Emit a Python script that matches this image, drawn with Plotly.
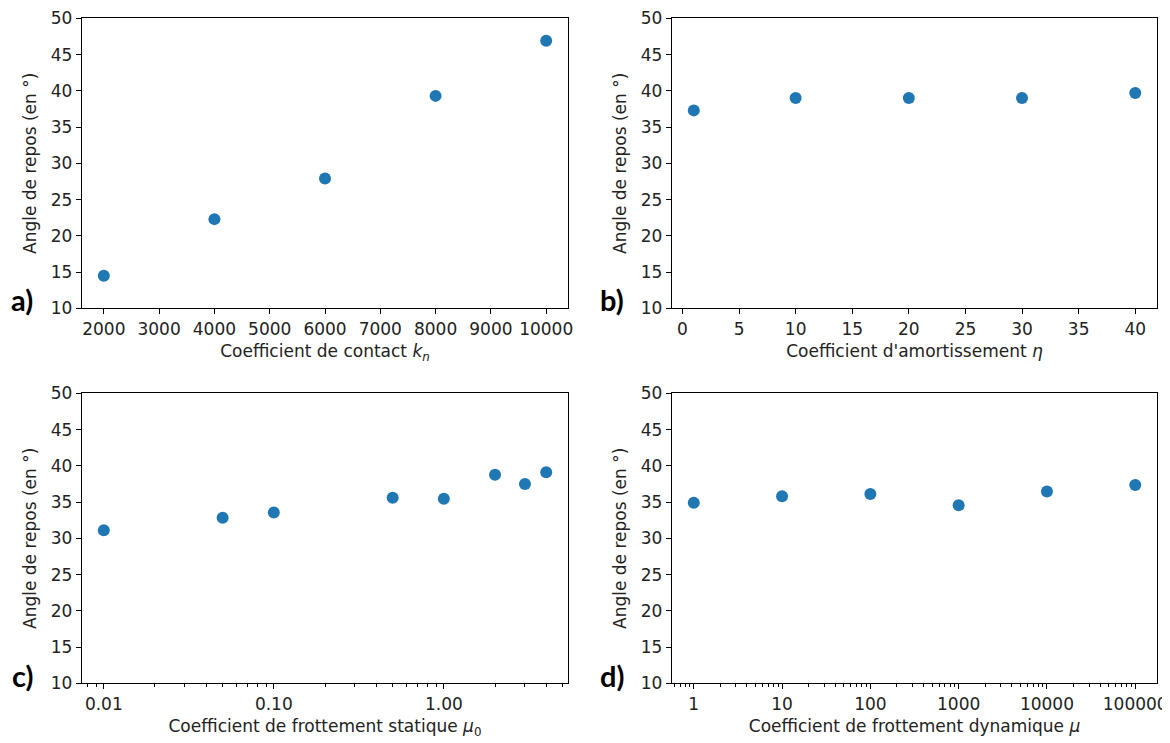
import plotly.graph_objects as go

# ---- data ----
kn = [2000, 4000, 6000, 8000, 10000]
angle_kn = [14.5, 22.3, 27.9, 39.3, 46.9]

eta = [1, 10, 20, 30, 40]
angle_eta = [37.3, 39.0, 39.0, 39.0, 39.7]

mu0 = [0.01, 0.05, 0.1, 0.5, 1, 2, 3, 4]
angle_mu0 = [31.1, 32.85, 33.55, 35.6, 35.45, 38.75, 37.5, 39.1]

mu = [1, 10, 100, 1000, 10000, 100000]
angle_mu = [34.9, 35.8, 36.1, 34.55, 36.45, 37.35]

mu0_ticks = [0.01, 0.1, 1]
mu0_ticktext = ["0.01", "0.10", "1.00"]
mu_ticks = [1, 10, 100, 1000, 10000, 100000]
mu_ticktext = ["1", "10", "100", "1000", "10000", "100000"]

ylabel = "Angle de repos (en °)"
xlabels = [
    "Coefficient de contact <i>k<sub>n</sub></i>",
    "Coefficient d'amortissement <i>η</i>",
    "Coefficient de frottement statique <i>μ</i><sub>0</sub>",
    "Coefficient de frottement dynamique <i>μ</i>",
]
panel_labels = ["a)", "b)", "c)", "d)"]

W, H = 1170, 743
OFF = 8  # default body margin of the html page
FW, FH = W - OFF, H - OFF
BLUE = "#1f77b4"
FONT = "DejaVu Sans"
TXT = "#222222"
TICK_SIZE = 17
TITLE_SIZE = 17

def px_x(p):
    return (p - OFF) / FW

def px_y(p):
    return 1 - (p - OFF) / FH

xdom_left = [px_x(81.7), px_x(568.3)]
xdom_right = [px_x(671.7), px_x(1157.3)]
ydom_top = [px_y(308.3), px_y(18.3)]
ydom_bot = [px_y(683.3), px_y(393.3)]

fig = go.Figure()
series = [(kn, angle_kn), (eta, angle_eta), (mu0, angle_mu0), (mu, angle_mu)]
for i, (xs, ys) in enumerate(series):
    sfx = "" if i == 0 else str(i + 1)
    fig.add_trace(go.Scatter(
        x=xs, y=ys, mode="markers",
        marker=dict(color=BLUE, size=12, line=dict(width=0)),
        xaxis="x" + sfx, yaxis="y" + sfx, showlegend=False,
    ))

common_axis = dict(
    showline=True, linecolor="black", linewidth=1, mirror=True,
    ticks="outside", ticklen=5, tickwidth=1, tickcolor="black",
    showgrid=False, zeroline=False, automargin=False,
    tickfont=dict(family=FONT, size=TICK_SIZE, color=TXT),
)

minor_log = dict(ticks="outside", ticklen=3, tickwidth=1, tickcolor="black",
                 dtick="D1", showgrid=False)

def yaxis(dom, anchor):
    return dict(
        common_axis, domain=dom, anchor=anchor, range=[10, 50], dtick=5,
        tick0=10,
        title=dict(text=ylabel, font=dict(family=FONT, size=TITLE_SIZE, color=TXT), standoff=9),
    )

def xtitle(t):
    return dict(text=t, font=dict(family=FONT, size=TITLE_SIZE, color=TXT), standoff=7)

layout = dict(
    width=FW, height=FH,
    margin=dict(l=0, r=0, t=0, b=0),
    paper_bgcolor="white", plot_bgcolor="white",
    xaxis=dict(common_axis, domain=xdom_left, anchor="y", range=[1600, 10400],
               dtick=1000, tick0=0, tickformat="d", title=xtitle(xlabels[0])),
    yaxis=yaxis(ydom_top, "x"),
    xaxis2=dict(common_axis, domain=xdom_right, anchor="y2", range=[-0.95, 41.95],
                dtick=5, tick0=0, title=xtitle(xlabels[1])),
    yaxis2=yaxis(ydom_top, "x2"),
    xaxis3=dict(common_axis, domain=xdom_left, anchor="y3", type="log",
                range=[-2.13, 0.732], tickvals=mu0_ticks, ticktext=mu0_ticktext,
                minor=minor_log, title=xtitle(xlabels[2])),
    yaxis3=yaxis(ydom_bot, "x3"),
    xaxis4=dict(common_axis, domain=xdom_right, anchor="y4", type="log",
                range=[-0.25, 5.25], tickvals=mu_ticks, ticktext=mu_ticktext,
                minor=minor_log, title=xtitle(xlabels[3])),
    yaxis4=yaxis(ydom_bot, "x4"),
)
fig.update_layout(**layout)

label_pos = [(22, 300), (612, 300), (22, 675), (612, 675)]
for lab, (lx, ly) in zip(panel_labels, label_pos):
    fig.add_annotation(
        x=px_x(lx), y=px_y(ly), xref="paper", yref="paper",
        text="<b>" + lab + "</b>", showarrow=False,
        font=dict(family="Lato", size=29, color="black"),
        xanchor="center", yanchor="middle",
    )

fig.write_html("out.html")
